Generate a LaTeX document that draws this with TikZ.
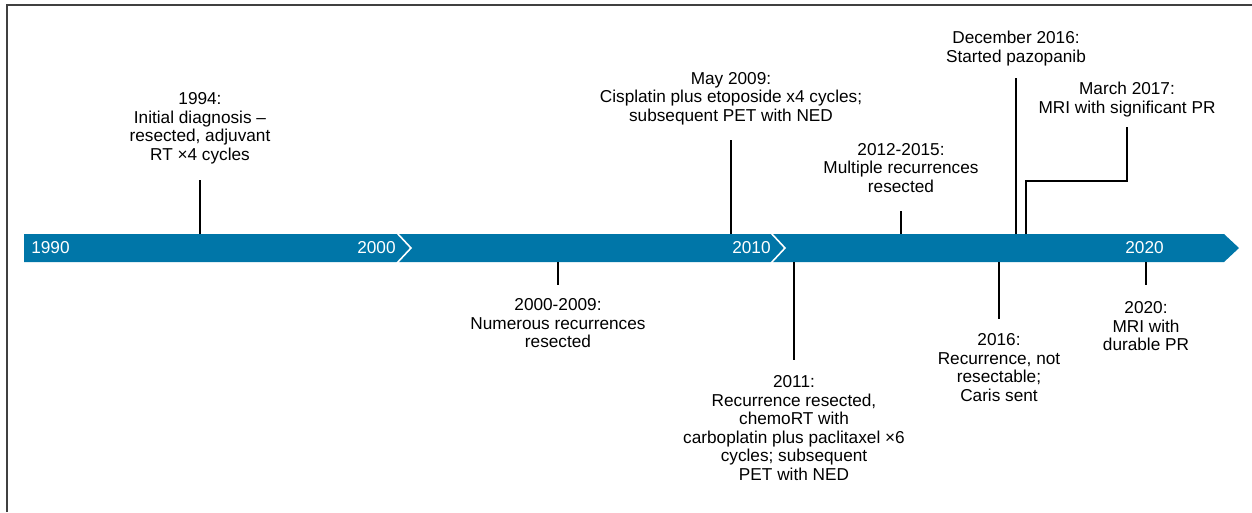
\documentclass[tikz,border=0pt]{standalone}
\usepackage{fontspec}
\setmainfont{Liberation Sans}
\usetikzlibrary{positioning}
\definecolor{cBAND}{HTML}{0076A8}
\definecolor{cFRAME}{HTML}{404040}
\tikzset{
  evtbox/.style={
    inner sep=0pt,
    align=center,
    text=black,
    font=\fontsize{9.8}{10.6}\selectfont
  },
  yearlabel/.style={
    inner sep=0pt,
    text=white,
    font=\fontsize{9.8}{10.6}\selectfont
  },
  tick/.style={
    line width=1.1pt,
    draw=black
  },
  chevron/.style={
    line width=0.9pt,
    draw=white
  }
}

\begin{document}
\begin{tikzpicture}[x=0.02cm, y=-0.02cm]
  \useasboundingbox (0,0) rectangle (1252,512);
  \draw[cFRAME, line width=1.1pt] (7,512) -- (7,5) -- (1252,5);

  % time band
  \fill[cBAND] (24,234) -- (1224,234) -- (1239,248) -- (1224,262) -- (24,262) -- cycle;
  \draw[chevron] (397,233) -- (411,248) -- (397,263);
  \draw[chevron] (771,233) -- (785,248) -- (771,263);

  \node[yearlabel, anchor=west] (y1990) at (31,248) {1990};
  \node[yearlabel, anchor=east] (y2000) at (396,248) {2000};
  \node[yearlabel, anchor=east] (y2010) at (771,248) {2010};
  \node[yearlabel, anchor=east] (y2020) at (1164,248) {2020};

  % tick points on the band and tick ends
  \coordinate (b1994) at (200,234);
  \coordinate (e1994) at (200,180);
  \coordinate (b2000) at (558,262);
  \coordinate (e2000) at (558,285);
  \coordinate (b2009) at (731,234);
  \coordinate (e2009) at (731,140);
  \coordinate (b2011) at (794,262);
  \coordinate (e2011) at (794,360);
  \coordinate (b2012) at (901,234);
  \coordinate (e2012) at (901,211);
  \coordinate (bdec16) at (1016,234);
  \coordinate (edec16) at (1016,78);
  \coordinate (bmar17) at (1026,234);
  \coordinate (emar17) at (1127,127);
  \coordinate (b2016) at (999,262);
  \coordinate (e2016) at (999,319);
  \coordinate (b2020) at (1146,262);
  \coordinate (e2020) at (1146,285);

  % events above
  \node[evtbox, above=0.31cm of e1994] (n1994) {1994:\\Initial diagnosis –\\resected, adjuvant\\RT ×4 cycles};
  \node[evtbox, above=0.29cm of e2009] (n2009) {May 2009:\\Cisplatin plus etoposide x4 cycles;\\subsequent PET with NED};
  \node[evtbox, above=0.36cm of e2012] (n2012) {2012-2015:\\Multiple recurrences\\resected};
  \node[evtbox, above=0.23cm of edec16] (ndec16) {December 2016:\\Started pazopanib};
  \node[evtbox, above=0.19cm of emar17] (nmar17) {March 2017:\\MRI with significant PR};

  % events below
  \node[evtbox, below=0.26cm of e2000] (n2000) {2000-2009:\\Numerous recurrences\\resected};
  \node[evtbox, below=0.30cm of e2011] (n2011) {2011:\\Recurrence resected,\\chemoRT with\\carboplatin plus paclitaxel ×6\\cycles; subsequent\\PET with NED};
  \node[evtbox, below=0.28cm of e2016] (n2016) {2016:\\Recurrence, not\\resectable;\\Caris sent};
  \node[evtbox, below=0.32cm of e2020] (n2020) {2020:\\MRI with\\durable PR};

  \draw[tick] (b1994) -- (e1994);
  \draw[tick] (b2000) -- (e2000);
  \draw[tick] (b2009) -- (e2009);
  \draw[tick] (b2011) -- (e2011);
  \draw[tick] (b2012) -- (e2012);
  \draw[tick] (bdec16) -- (edec16);
  \draw[tick] (bmar17) -- (1026,181) -- (1127,181) -- (emar17);
  \draw[tick] (b2016) -- (e2016);
  \draw[tick] (b2020) -- (e2020);
\end{tikzpicture}
\end{document}
